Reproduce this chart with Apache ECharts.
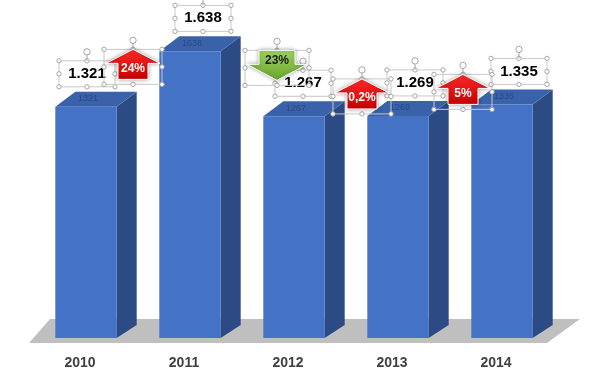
<!DOCTYPE html>
<html>
<head>
<meta charset="utf-8">
<script src="https://cdn.jsdelivr.net/npm/echarts@6/dist/echarts.min.js"></script>
<style>
  html, body { margin: 0; padding: 0; background: #fff; }
  #chart { width: 589px; height: 378px; }
</style>
</head>
<body>
<div id="chart"></div>
<script>
  // data
  const years = ["2010", "2011", "2012", "2013", "2014"];
  const values = [1321, 1638, 1267, 1269, 1335];
  const valueTexts = ["1.321", "1.638", "1.267", "1.269", "1.335"];
  const changeTexts = ["24%", "23%", "0,2%", "5%"];
  const changeDirs = ["up", "down", "up", "up"];

  // layout nudges (px)
  const labelDx = [1, 13, 9, 17, 17];
  const arrowDx = [-5, 35, 16, 13];
  const arrowDy = [-2, -1, -37, -30];

  const FONT = '"Liberation Sans", Arial, sans-serif';

  // PowerPoint style selection box with handles
  function handles(x, y, w, h) {
    const els = [{
      type: 'rect', shape: { x: x, y: y, width: w, height: h },
      style: { fill: 'rgba(255,255,255,0)', stroke: '#c8c8c8', lineWidth: 1 }
    }];
    const pts = [[x, y], [x + w / 2, y], [x + w, y], [x, y + h / 2], [x + w, y + h / 2],
      [x, y + h], [x + w / 2, y + h], [x + w, y + h]];
    pts.forEach(p => els.push({
      type: 'circle', shape: { cx: p[0], cy: p[1], r: 2.2 },
      style: { fill: '#fff', stroke: '#a6a6a6', lineWidth: 1 }
    }));
    els.push({ type: 'line', shape: { x1: x + w / 2, y1: y, x2: x + w / 2, y2: y - 6 }, style: { stroke: '#a6a6a6' } });
    els.push({ type: 'circle', shape: { cx: x + w / 2, cy: y - 9, r: 3.2 }, style: { fill: '#fff', stroke: '#a6a6a6' } });
    return els;
  }

  function renderBar(params, api) {
    const i = api.value(0);
    const top = api.coord([i, api.value(1)]);
    const base = api.coord([i, 0]);
    const w = api.size([1, 0])[0] * 0.59;
    const x0 = top[0] - w / 2, x1 = top[0] + w / 2;
    const yT = top[1], yB = base[1];
    const dx = 20, dy = 15;
    return {
      type: 'group',
      children: [
        { type: 'polygon', shape: { points: [[x1, yT], [x1 + dx, yT - dy], [x1 + dx, yB - 13], [x1, yB]] }, style: { fill: '#2c4b85' } },
        { type: 'polygon', shape: { points: [[x0, yT], [x0 + dx, yT - dy], [x1 + dx, yT - dy], [x1, yT]] }, style: { fill: '#3a62ab' } },
        { type: 'rect', shape: { x: x0, y: yT, width: w, height: yB - yT }, style: { fill: '#4472c4' } },
        {
          type: 'text', style: {
            text: String(values[i]), x: top[0] + 2, y: yT - 8, align: 'center', verticalAlign: 'middle',
            fill: 'rgba(30,50,95,0.55)', font: '9px ' + FONT
          }
        }
      ]
    };
  }

  function renderLabel(params, api) {
    const i = api.value(0);
    const top = api.coord([i, api.value(1)]);
    const cx = top[0] + labelDx[i], cy = top[1] - 33;
    const bw = 56, bh = 26;
    const children = handles(cx - bw / 2, cy - bh / 2, bw, bh);
    children.push({
      type: 'text', style: {
        text: valueTexts[i], x: cx, y: cy, align: 'center', verticalAlign: 'middle',
        font: 'bold 15px ' + FONT, fill: '#000'
      }
    });
    return { type: 'group', children: children };
  }

  function renderArrow(params, api) {
    const i = api.value(0);
    const a = api.coord([i, 0]), b = api.coord([i + 1, 0]);
    const tallest = Math.max(values[i], values[i + 1]);
    const cx = (a[0] + b[0]) / 2 + arrowDx[i];
    const y0 = api.coord([i, tallest])[1] + arrowDy[i];
    const up = changeDirs[i] === 'up';
    const H = 30, hh = 14;
    const hw = up ? 27 : 30, sw = up ? 15 : 18;
    let pts, ty;
    if (up) {
      pts = [[cx, y0], [cx + hw, y0 + hh], [cx + sw, y0 + hh], [cx + sw, y0 + H],
        [cx - sw, y0 + H], [cx - sw, y0 + hh], [cx - hw, y0 + hh]];
      ty = y0 + 19;
    } else {
      pts = [[cx - sw, y0], [cx + sw, y0], [cx + sw, y0 + H - hh - 2], [cx + hw, y0 + H - hh - 2],
        [cx, y0 + H], [cx - hw, y0 + H - hh - 2], [cx - sw, y0 + H - hh - 2]];
      ty = y0 + 10;
    }
    const fill = up
      ? new echarts.graphic.LinearGradient(0, 0, 0, 1, [{ offset: 0, color: '#ff2a2a' }, { offset: 1, color: '#c80000' }])
      : new echarts.graphic.LinearGradient(0, 0, 0, 1, [{ offset: 0, color: '#9fd35f' }, { offset: 1, color: '#6aa72e' }]);
    const children = handles(cx - hw - 2, y0, 2 * hw + 4, H + 5);
    children.push({
      type: 'polygon', shape: { points: pts },
      style: { fill: fill, stroke: '#fff', lineWidth: 1, shadowBlur: 4, shadowColor: 'rgba(0,0,0,0.35)' }
    });
    children.push({
      type: 'text', style: {
        text: changeTexts[i], x: cx, y: ty, align: 'center', verticalAlign: 'middle',
        font: 'bold 12px ' + FONT, fill: up ? '#fff' : '#1a1a1a'
      }
    });
    return { type: 'group', children: children };
  }

  const barData = values.map((v, i) => [i, v]);
  const arrowData = changeTexts.map((t, i) => [i, 0]);

  const myChart = echarts.init(document.getElementById('chart'));
  const option = {
    animation: false,
    grid: { left: 34, right: 35, top: 23, bottom: 40 },
    graphic: [{
      type: 'polygon', z: -10,
      shape: { points: [[29, 343], [547, 343], [580, 319], [50, 319]] },
      style: { fill: '#bfbfbf' }
    }],
    xAxis: {
      type: 'category',
      data: years,
      axisLine: { show: false },
      axisTick: { show: false },
      axisLabel: {
        color: '#404040', fontSize: 14, fontWeight: 'bold', fontFamily: FONT,
        margin: 18, padding: [0, 12, 0, 0]
      }
    },
    yAxis: {
      type: 'value', min: 0, max: 1800, show: false
    },
    series: [
      { type: 'custom', renderItem: renderBar, data: barData, z: 2 },
      { type: 'custom', renderItem: renderLabel, data: barData, z: 3 },
      { type: 'custom', renderItem: renderArrow, data: arrowData, z: 4 }
    ]
  };
  myChart.setOption(option);
</script>
</body>
</html>
